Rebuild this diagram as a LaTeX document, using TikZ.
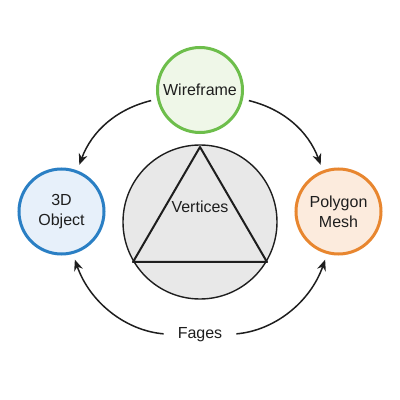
\documentclass[tikz,border=0pt]{standalone}
\usepackage{fontspec}
\setmainfont{Liberation Sans}
\usetikzlibrary{arrows.meta}
\definecolor{wfgreen}{HTML}{6DBE4B}
\definecolor{wffill}{HTML}{EFF7E8}
\definecolor{objblue}{HTML}{2A7FC4}
\definecolor{objfill}{HTML}{E7F0FA}
\definecolor{meshorange}{HTML}{E8862F}
\definecolor{meshfill}{HTML}{FCEBDD}
\definecolor{corefill}{HTML}{E8E8E8}
\definecolor{ink}{HTML}{1E1E1E}
\begin{document}
\begin{tikzpicture}[x=1pt,y=1pt,
  bubble/.style={circle,line width=3pt,minimum size=85pt,inner sep=0pt,align=center,font=\fontsize{16}{20}\selectfont,text=ink},
  arr/.style={line width=1.5pt,ink,-{Stealth[length=11pt,width=9pt]}},
  lbl/.style={font=\fontsize{16}{20}\selectfont,text=ink,inner sep=0pt}]
\useasboundingbox (0,0) rectangle (400,400);
\fill[white] (0,0) rectangle (400,400);
% central circle with triangle
\node[circle,draw=ink,fill=corefill,line width=1.4pt,minimum size=154pt,inner sep=0pt] (core) at (200,178) {};
\coordinate (ta) at (200,253);
\coordinate (tb) at (133,138);
\coordinate (tc) at (267,138);
\draw[ink,line width=2pt,line join=round] (ta) -- (tb) -- (tc) -- cycle;
\node[lbl] (vert) at (200,193) {Vertices};
% outer nodes
\node[bubble,draw=wfgreen,fill=wffill] (wf) at (200,310) {Wireframe};
\node[bubble,draw=objblue,fill=objfill] (obj) at (61.5,188.5) {3D\\Object};
\node[bubble,draw=meshorange,fill=meshfill] (mesh) at (338.5,188.5) {Polygon\\Mesh};
\node[lbl] (fg) at (200,65) {Fages};
% arrows
\draw[arr,shorten <=6pt,shorten >=6pt] (wf.192) to[bend right=28] (obj.69);
\draw[arr,shorten <=6pt,shorten >=6pt] (wf.348) to[bend left=28] (mesh.111);
\draw[arr,shorten <=14pt,shorten >=6pt] (fg.west) to[bend left=33] (obj.285);
\draw[arr,shorten <=14pt,shorten >=6pt] (fg.east) to[bend right=33] (mesh.255);
\end{tikzpicture}
\end{document}
